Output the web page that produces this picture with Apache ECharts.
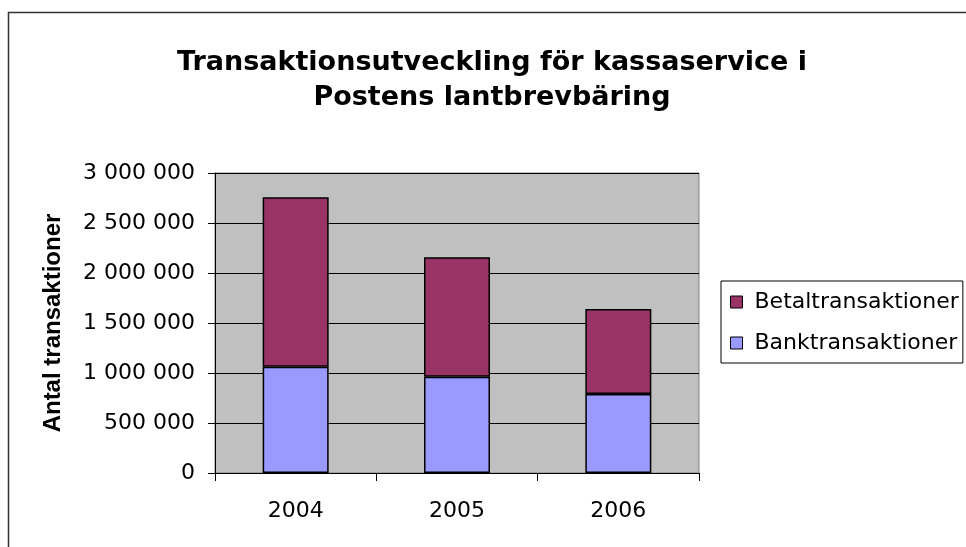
<!DOCTYPE html>
<html>
<head>
<meta charset="utf-8">
<script src="https://cdn.jsdelivr.net/npm/echarts@6/dist/echarts.min.js"></script>
<style>
html, body { margin: 0; padding: 0; background: #fff; }
#main { width: 966px; height: 547px; }
</style>
</head>
<body>
<div id="main"></div>
<script>
var years = ['2004', '2005', '2006'];
var bankValues = [1063000, 963000, 790000];
var betalValues = [1694000, 1194000, 850000];
var yTicks = [0, 500000, 1000000, 1500000, 2000000, 2500000, 3000000];

function fmt(v) {
    return String(v).replace(/\B(?=(\d{3})+(?!\d))/g, ' ');
}

var myChart = echarts.init(document.getElementById('main'));

var option = {
    backgroundColor: '#fff',
    animation: false,
    title: {
        text: 'Transaktionsutveckling för kassaservice i\nPostens lantbrevbäring',
        left: 487,
        textAlign: 'center',
        top: 40,
        textStyle: {
            fontFamily: 'DejaVu Sans',
            fontWeight: 'bold',
            fontSize: 27,
            lineHeight: 35,
            color: '#000'
        }
    },
    legend: {
        orient: 'vertical',
        left: 721,
        top: 281,
        padding: [10, 4, 9, 9],
        itemGap: 19,
        itemWidth: 12,
        itemHeight: 12,
        icon: 'rect',
        borderColor: '#000',
        borderWidth: 1,
        data: ['Betaltransaktioner', 'Banktransaktioner'],
        itemStyle: { borderColor: '#000', borderWidth: 1 },
        textStyle: {
            fontFamily: 'DejaVu Sans',
            fontSize: 22,
            color: '#000',
            padding: [0, 0, 0, 7]
        }
    },
    grid: {
        left: 215,
        top: 173,
        width: 484,
        height: 300,
        show: true,
        backgroundColor: '#C0C0C0',
        borderColor: '#808080',
        borderWidth: 1
    },
    xAxis: {
        type: 'category',
        data: years,
        axisLine: { lineStyle: { color: '#000', width: 1 } },
        axisTick: { show: true, length: 8, alignWithLabel: false, lineStyle: { color: '#000' } },
        axisLabel: {
            margin: 27,
            fontFamily: 'DejaVu Sans',
            fontSize: 22,
            color: '#000'
        }
    },
    yAxis: {
        type: 'value',
        min: 0,
        max: 3000000,
        interval: 500000,
        name: 'Antal transaktioner',
        nameLocation: 'middle',
        nameRotate: 90,
        nameGap: 150,
        nameTextStyle: {
            fontFamily: 'Liberation Sans',
            fontWeight: 'bold',
            fontSize: 24,
            color: '#000'
        },
        axisLine: { show: true, lineStyle: { color: '#000', width: 1 } },
        axisTick: { show: true, length: 7, lineStyle: { color: '#000' } },
        splitLine: { show: true, lineStyle: { color: '#000', width: 1 } },
        axisLabel: {
            margin: 20,
            fontFamily: 'DejaVu Sans',
            fontSize: 22,
            color: '#000',
            formatter: function (v) {
                return yTicks.indexOf(v) >= 0 ? fmt(v) : '';
            }
        }
    },
    series: [
        {
            name: 'Banktransaktioner',
            type: 'bar',
            stack: 'total',
            barWidth: 66,
            data: bankValues,
            itemStyle: { color: '#9999FF', borderColor: '#000', borderWidth: 1.5 }
        },
        {
            name: 'Betaltransaktioner',
            type: 'bar',
            stack: 'total',
            barWidth: 66,
            data: betalValues,
            itemStyle: { color: '#993366', borderColor: '#000', borderWidth: 1.5 }
        }
    ],
    graphic: [
        {
            type: 'rect',
            shape: { x: 8.5, y: 12.5, width: 1000, height: 1000 },
            style: { fill: 'none', stroke: '#333', lineWidth: 1.5 },
            silent: true
        }
    ]
};

myChart.setOption(option);
</script>
</body>
</html>
